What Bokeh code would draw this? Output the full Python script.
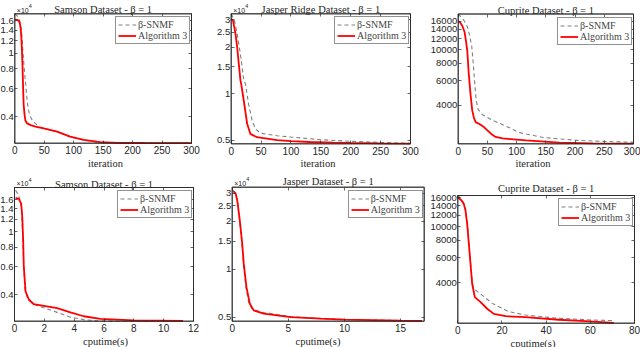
import math
from bokeh.plotting import figure
from bokeh.layouts import row, column
from bokeh.models import Range1d, FixedTicker, Legend, LegendItem, Label, LinearAxis, LogAxis, Arrow
from bokeh.embed import file_html
from bokeh.resources import INLINE

# ---------------- data ----------------
# Samson, iterations
sam_it_alg_x = [0, 4, 7, 8.5, 10, 11, 12, 13, 14, 15, 16.5, 18, 21, 27, 35, 49, 72, 94, 117, 145, 175, 220, 300]
sam_it_alg_y = [16300, 16250, 16000, 15500, 14300, 12800, 10800, 8600, 6300, 4800, 4150, 3800, 3640, 3550, 3480,
                3390, 3230, 3010, 2870, 2775, 2750, 2743, 2740]
sam_it_snmf_x = [0, 3, 7, 9, 11, 12.5, 14, 15.5, 17, 18.5, 20, 22, 24.5, 28, 33, 40, 45, 49, 72, 94, 117, 145, 200, 300]
sam_it_snmf_y = [17700, 17400, 16600, 15600, 14200, 12300, 10000, 8500, 7300, 6400, 5500, 4700, 4200, 3900, 3700,
                 3500, 3420, 3385, 3220, 3000, 2865, 2770, 2742, 2738]

# Jasper Ridge, iterations
jas_it_alg_x = [0, 3.3, 7.2, 10, 12.7, 15.5, 16.7, 21, 26.7, 32, 43, 77, 100, 132, 171, 200, 250, 300]
jas_it_alg_y = [30500, 29500, 24400, 20000, 15600, 12200, 11600, 9050, 6400, 5510, 5240, 5020, 4940, 4880, 4830,
                4810, 4780, 4760]
jas_it_snmf_x = [0, 5.5, 10, 14.4, 18.3, 21, 23.9, 29, 35, 40.5, 49, 77, 100, 132, 150, 200, 250, 300]
jas_it_snmf_y = [32900, 29800, 24400, 19100, 14900, 12200, 11600, 8620, 6720, 5940, 5560, 5350, 5250, 5120, 5050,
                 4930, 4850, 4780]

# Cuprite, iterations
cup_it_alg_x = [0, 3, 7, 11, 13, 15.5, 18, 21, 24, 27, 30, 37, 44, 50, 56, 64, 76, 116, 173, 231, 300]
cup_it_alg_y = [16000, 15800, 14900, 13360, 11800, 9890, 6800, 4850, 3690, 3250, 3040, 2930, 2800, 2650, 2510,
                2380, 2320, 2250, 2170, 2138, 2128]
cup_it_snmf_x = [0, 5, 10, 14, 17, 20, 23, 25, 27, 29, 31, 34, 41, 59, 87, 104, 116, 133, 145, 202, 250, 300]
cup_it_snmf_y = [18070, 17200, 16180, 15200, 14100, 12300, 10800, 8700, 6800, 5300, 4300, 3750, 3450, 3130, 2780,
                 2560, 2500, 2420, 2360, 2250, 2210, 2180]

# Samson, cputime
sam_t_alg_x = [0.07, 0.29, 0.45, 0.52, 0.58, 0.62, 0.74, 0.96, 1.29, 1.96, 2.86, 3.75, 4.64, 5.76, 8, 11.3]
sam_t_alg_y = [16450, 16200, 15100, 12500, 8960, 6140, 4200, 3730, 3480, 3400, 3290, 3090, 2920, 2810, 2750, 2725]
sam_t_snmf_x = [0.07, 0.29, 0.47, 0.54, 0.6, 0.69, 0.89, 1.3, 1.96, 2.86, 3.75, 4.64, 5.76, 7, 9.5]
sam_t_snmf_y = [18400, 17000, 14400, 9860, 6750, 4400, 3730, 3470, 3310, 3090, 2880, 2780, 2720, 2716, 2716]

# Jasper, cputime
jas_t_alg_x = [0.09, 0.3, 0.45, 0.68, 0.89, 1.03, 1.27, 1.57, 1.92, 2.81, 5.2, 7.9, 10, 15, 16.9]
jas_t_alg_y = [30800, 30000, 27000, 20200, 14500, 10800, 7720, 6080, 5520, 5260, 5010, 4900, 4830, 4760, 4740]
jas_t_snmf_x = [0, 0.3, 0.45, 0.66, 0.86, 1.0, 1.22, 1.48, 1.8, 2.8, 5.2, 7.9, 10, 15, 16.5]
jas_t_snmf_y = [31500, 30200, 27200, 20200, 14500, 10800, 7720, 6100, 5600, 5350, 5050, 4900, 4840, 4770, 4750]

# Cuprite, cputime
cup_t_alg_x = [0, 1.7, 2.7, 3.5, 4.25, 5, 5.75, 6.5, 7.7, 10.3, 13.3, 16.3, 21.6, 30.6, 45.7, 57.8, 70.6]
cup_t_alg_y = [16140, 15290, 14480, 12980, 10460, 7550, 5460, 3940, 3170, 2920, 2620, 2410, 2320, 2285, 2190,
               2140, 2080]
cup_t_snmf_x = [0, 1.7, 2.7, 3.5, 4.3, 5, 5.8, 6.6, 7.2, 11, 15.6, 23, 30.6, 45.7, 60.8, 70.6]
cup_t_snmf_y = [16600, 15600, 14700, 13100, 10500, 7600, 5500, 4000, 3630, 3270, 2860, 2500, 2365, 2240, 2180, 2160]

# tick definitions
iter_ticks = [0, 50, 100, 150, 200, 250, 300]
sam_yticks = [4000, 6000, 8000, 10000, 12000, 14000, 16000]
sam_ylabels = ["0.4", "0.6", "0.8", "1", "1.2", "1.4", "1.6"]
jas_yticks = [5000, 10000, 15000, 20000, 25000, 30000]
jas_ylabels = ["0.5", "1", "1.5", "2", "2.5", "3"]
cup_yticks = [4000, 6000, 8000, 10000, 12000, 14000, 16000]
cup_ylabels = ["4000", "6000", "8000", "10000", "12000", "14000", "16000"]
sam_t_ticks = [0, 2, 4, 6, 8, 10, 12]
jas_t_ticks = [0, 5, 10, 15]
cup_t_ticks = [0, 20, 40, 60, 80]

legend_labels = ["β-SNMF", "Algorithm 3"]
exponent_text = ["×10", "4"]

AX = "#262626"
SERIF = "Liberation Serif"
SANS = "Liberation Sans"
LEG_W, LEG_H = 73, 29


def style_axis(ax, ticks, font_size, standoff, show_labels=True):
    ax.ticker = FixedTicker(ticks=ticks, minor_ticks=[])
    ax.axis_line_color = None
    ax.major_tick_line_color = AX
    ax.major_tick_line_width = 0.7
    ax.major_tick_in = 3
    ax.major_tick_out = 0
    ax.minor_tick_in = 0
    ax.minor_tick_out = 0
    ax.minor_tick_line_color = None
    ax.major_label_text_font = SANS
    ax.major_label_text_font_size = font_size
    ax.major_label_text_color = AX if show_labels else None
    ax.major_label_standoff = standoff


def panel(title, xlabel, ax_, ay_, sx_, sy_, xr, yr, xticks, yticks, ylabels, exponent,
          w, h, L, R, T, B, title_off):
    # The frame fills the whole figure; (L, R, T, B) is the axes box in px inside it.
    kx = (R - L) / (xr[1] - xr[0])
    ppd = (B - T) / math.log10(yr[1] / yr[0])
    x_start = xr[0] - L / kx
    x_end = xr[1] + (w - R) / kx
    y_start = yr[0] / 10 ** ((h - B) / ppd)
    y_end = yr[1] * 10 ** (T / ppd)
    p = figure(width=w, height=h, output_backend="svg", toolbar_location=None, title_location=None,
               x_range=Range1d(x_start, x_end), y_range=Range1d(y_start, y_end), y_axis_type="log",
               min_border=0, min_border_left=0, min_border_right=0, min_border_top=0, min_border_bottom=0)
    p.grid.visible = False
    p.outline_line_color = None
    p.background_fill_color = "white"
    p.border_fill_color = "white"

    xa = p.xaxis[0]
    style_axis(xa, xticks, "10px", 3)
    xa.fixed_location = yr[0]
    xa.axis_label = xlabel
    xa.axis_label_text_font = SERIF
    xa.axis_label_text_font_size = "10.5px"
    xa.axis_label_text_font_style = "normal"
    xa.axis_label_text_color = AX
    xa.axis_label_standoff = 0

    ya = p.yaxis[0]
    style_axis(ya, yticks, "9.5px", 1)
    ya.fixed_location = xr[0]
    ya.major_label_overrides = {t: l for t, l in zip(yticks, ylabels)}

    # mirrored inward ticks on the top and right sides of the box
    top_ax = LinearAxis(fixed_location=yr[1])
    style_axis(top_ax, xticks, "1px", 0, show_labels=False)
    p.add_layout(top_ax, "above")
    right_ax = LogAxis(fixed_location=xr[1])
    style_axis(right_ax, yticks, "1px", 0, show_labels=False)
    p.add_layout(right_ax, "right")

    r_s = p.line(sx_, sy_, line_color="#808080", line_width=1.1, line_dash="4 3")
    r_a = p.line(ax_, ay_, line_color="#ff0000", line_width=1.8)
    # axes box on the data limits
    corners_x = [xr[0], xr[1], xr[1], xr[0], xr[0]]
    corners_y = [yr[0], yr[0], yr[1], yr[1], yr[0]]
    p.line(corners_x, corners_y, line_color=AX, line_width=0.8)
    for i in range(4):
        p.add_layout(Arrow(x_start=corners_x[i], y_start=corners_y[i],
                           x_end=corners_x[i + 1], y_end=corners_y[i + 1],
                           start=None, end=None, line_color=AX, line_width=0.8))

    leg = Legend(items=[LegendItem(label=legend_labels[0], renderers=[r_s]),
                        LegendItem(label=legend_labels[1], renderers=[r_a])],
                 location=(R - 3 - LEG_W, (h - T) - 2 - LEG_H))
    leg.margin = 0
    leg.padding = 2
    leg.spacing = 0
    leg.label_text_font = SERIF
    leg.label_text_font_size = "10px"
    leg.label_height = 11
    leg.glyph_height = 11
    leg.glyph_width = 18
    leg.label_standoff = 2
    leg.border_line_color = AX
    leg.border_line_width = 0.7
    leg.background_fill_alpha = 1
    p.add_layout(leg, "center")

    p.add_layout(Label(x=(xr[0] + xr[1]) / 2, y=yr[1], text=title, text_font=SERIF,
                       text_font_size="10.5px", text_font_style="normal", text_color=AX,
                       text_align="center", text_baseline="alphabetic", y_offset=title_off))
    if exponent:
        p.add_layout(Label(x=xr[0], y=yr[1], text=exponent_text[0], text_font=SANS,
                           text_font_size="7px", text_color=AX, text_align="left",
                           text_baseline="alphabetic", x_offset=2, y_offset=3.8))
        p.add_layout(Label(x=xr[0], y=yr[1], text=exponent_text[1], text_font=SANS,
                           text_font_size="5.5px", text_color=AX, text_align="left",
                           text_baseline="alphabetic", x_offset=14, y_offset=7.8))
    return p


f1 = panel("Samson Dataset - β = 1", "iteration", sam_it_alg_x, sam_it_alg_y, sam_it_snmf_x, sam_it_snmf_y,
           (0, 300), (2735, 17740), iter_ticks, sam_yticks, sam_ylabels, True,
           210, 170, 14.3, 191, 13.3, 142.7, 4.8)
f2 = panel("Jasper Ridge Dataset - β = 1", "iteration", jas_it_alg_x, jas_it_alg_y, jas_it_snmf_x, jas_it_snmf_y,
           (0, 300), (4750, 32900), iter_ticks, jas_yticks, jas_ylabels, True,
           215, 170, 20.7, 200, 13.3, 143.3, 4.8)
f3 = panel("Cuprite Dataset - β = 1", "iteration", cup_it_alg_x, cup_it_alg_y, cup_it_snmf_x, cup_it_snmf_y,
           (0, 300), (2125, 18070), iter_ticks, cup_yticks, cup_ylabels, False,
           215, 170, 32.7, 208, 13.5, 143.3, 3.5)
f4 = panel("Samson Dataset - β = 1", "cputime(s)", sam_t_alg_x, sam_t_alg_y, sam_t_snmf_x, sam_t_snmf_y,
           (0, 12), (2716, 19150), sam_t_ticks, sam_yticks, sam_ylabels, True,
           210, 177, 14, 193, 17, 150.7, 3)
f5 = panel("Jasper Dataset - β = 1", "cputime(s)", jas_t_alg_x, jas_t_alg_y, jas_t_snmf_x, jas_t_snmf_y,
           (0, 17.1), (4720, 32700), jas_t_ticks, jas_yticks, jas_ylabels, True,
           215, 177, 21.7, 213.7, 16.7, 150.7, 5.8)
f6 = panel("Cuprite Dataset - β = 1", "cputime(s)", cup_t_alg_x, cup_t_alg_y, cup_t_snmf_x, cup_t_snmf_y,
           (0, 80), (2070, 16600), cup_t_ticks, cup_yticks, cup_ylabels, False,
           215, 177, 32.3, 209, 25, 152.7, 7.5)

layout = column(row(f1, f2, f3), row(f4, f5, f6))
open("out.html", "w").write(file_html(layout, INLINE))
